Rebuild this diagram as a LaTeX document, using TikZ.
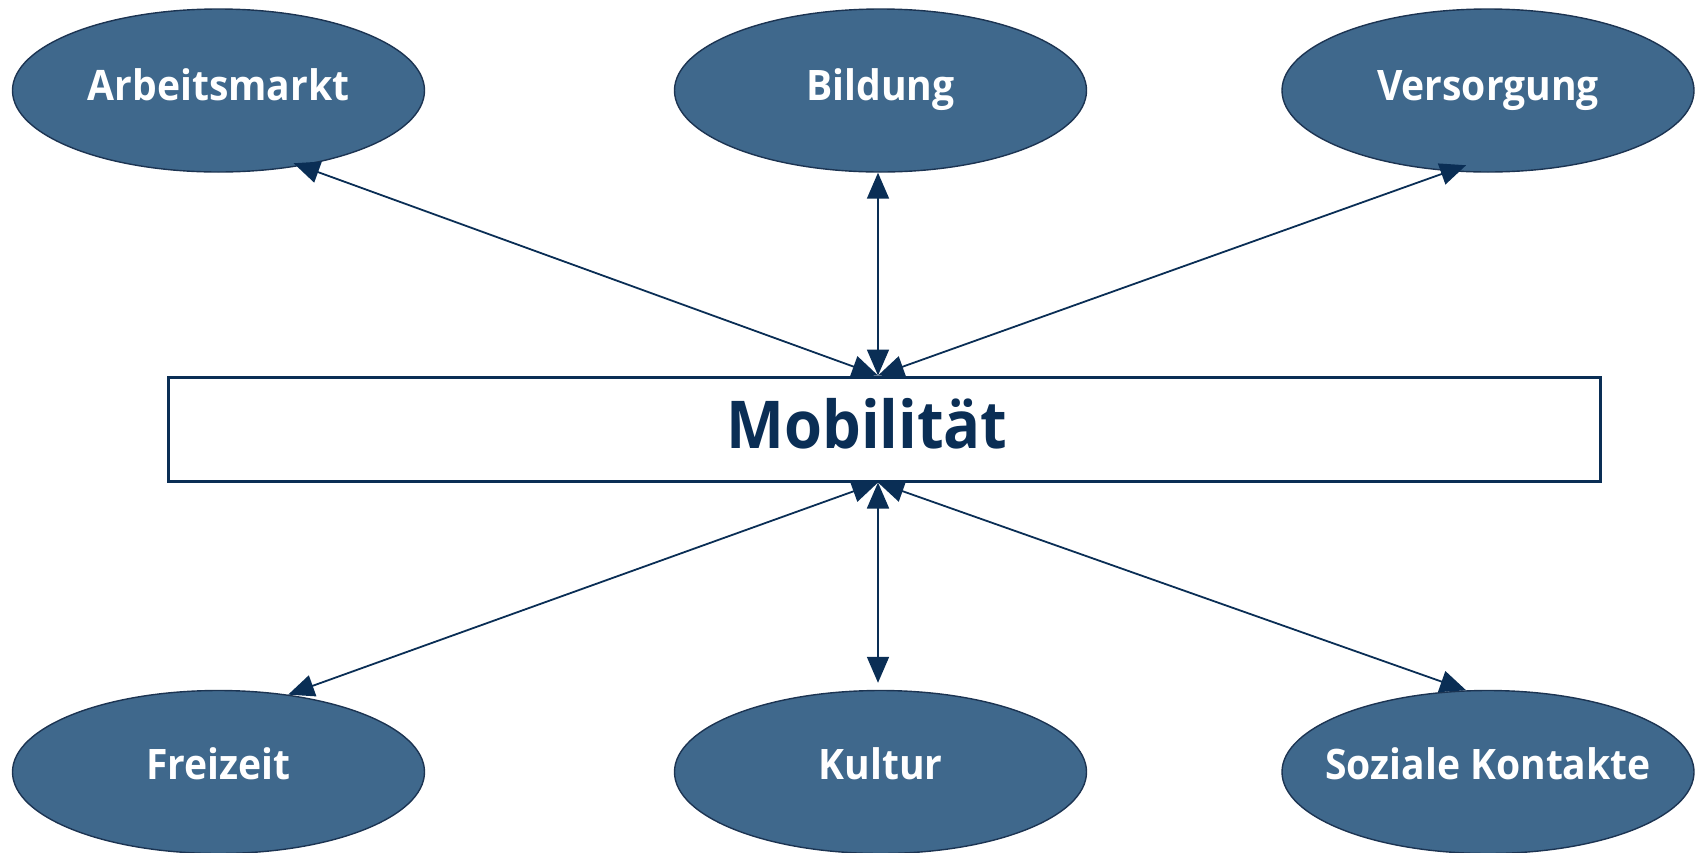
\documentclass[tikz,border=0pt]{standalone}
\usepackage{fontspec}
\setmainfont{Open Sans}
\newfontfamily\lblfont{Open Sans}[FakeStretch=0.93]
\usetikzlibrary{shapes.geometric,arrows.meta}
\definecolor{ellfill}{RGB}{63,104,140}
\definecolor{ellline}{RGB}{28,52,82}
\definecolor{navy}{RGB}{10,46,85}
\begin{document}
\begin{tikzpicture}[x=0.5pt,y=-0.5pt,
  ell/.style={ellipse, draw=ellline, line width=0.7pt, fill=ellfill, inner sep=0pt,
    minimum width=206pt, minimum height=81.5pt},
  lbl/.style={anchor=base, inner sep=0pt, text=white,
    font=\lblfont\bfseries\fontsize{21}{25}\selectfont},
  mobbox/.style={rectangle, draw=navy, line width=1.5pt, fill=white,
    minimum width=716pt, minimum height=52pt, inner sep=0pt},
  link/.style={draw=navy, line width=0.9pt, {Triangle[length=13pt,width=11pt]}-{Triangle[length=13pt,width=11pt]}}
]
\useasboundingbox (0,0) rectangle (1698,852);
\node[ell] (arb) at (218.5,90.5) {};
\node[ell] (bild) at (880.5,90.5) {};
\node[ell] (vers) at (1488,90.5) {};
\node[ell] (frei) at (218.5,772) {};
\node[ell] (kult) at (880.5,772) {};
\node[ell] (soz) at (1488,772) {};
\node[lbl] (arbt) at ([yshift=-4.75pt]arb.center) {Arbeitsmarkt};
\node[lbl] (bildt) at ([yshift=-4.75pt]bild.center) {Bildung};
\node[lbl] (verst) at ([yshift=-4.75pt]vers.center) {Versorgung};
\node[lbl] (freit) at ([yshift=-3.5pt]frei.center) {Freizeit};
\node[lbl] (kultt) at ([yshift=-3.5pt]kult.center) {Kultur};
\node[lbl] (sozt) at ([yshift=-3.5pt]soz.center) {Soziale Kontakte};
\node[mobbox] (mob) at (884,429) {};
\node[text=navy, anchor=base, inner sep=0pt,
  font=\lblfont\bfseries\fontsize{33}{38}\selectfont] (mobtext) at (867,448) {Mobilität};
\coordinate (mt) at ([xshift=-3pt]mob.north);
\coordinate (mb) at ([xshift=-3pt]mob.south);
\draw[link] (mt) -- ([xshift=0.5pt,yshift=2pt]arb.-46);
\draw[link] (mt) -- ([xshift=-1.25pt]bild.south);
\draw[link] (mt) -- ([yshift=3.5pt]vers.-105);
\draw[link] (mb) -- (frei.48);
\draw[link] (mb) -- ([xshift=-1.25pt,yshift=3.5pt]kult.north);
\draw[link] (mb) -- (soz.105);
\end{tikzpicture}
\end{document}
